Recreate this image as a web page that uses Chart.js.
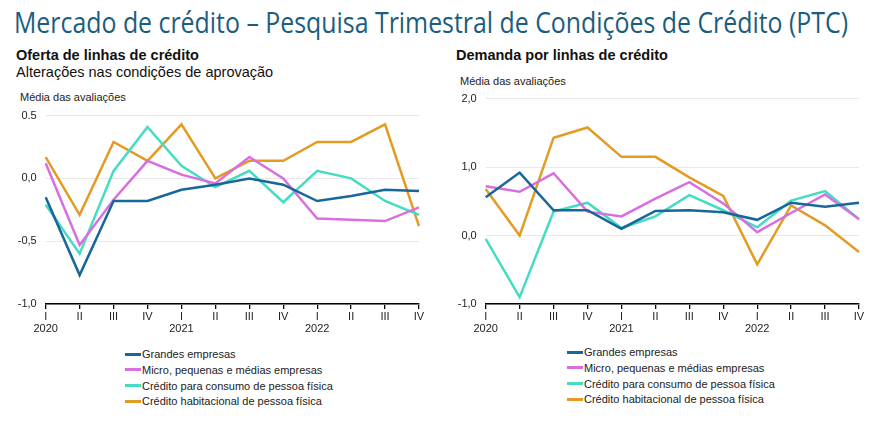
<!DOCTYPE html>
<html>
<head>
<meta charset="utf-8">
<script src="https://cdn.jsdelivr.net/npm/chart.js@4.4.1/dist/chart.umd.min.js"></script>
<style>
  html, body { margin: 0; padding: 0; background: #ffffff; }
  body { width: 886px; height: 435px; position: relative; overflow: hidden; font-family: "Liberation Sans", Arial, sans-serif; color: #1a1a1a; }
  #title { position: absolute; left: 14px; top: 1px; font-family: "Open Sans", sans-serif; font-size: 30px; color: #1b5d7e; white-space: nowrap; transform-origin: 0 0; }
  .h { position: absolute; font-size: 14.5px; font-weight: bold; white-space: nowrap; color: #111; }
  .sub { position: absolute; font-size: 14.5px; white-space: nowrap; color: #111; }
  .unit { position: absolute; font-size: 11px; white-space: nowrap; color: #222; }
  .wrap { position: absolute; }
  .legend { position: absolute; font-size: 11px; color: #222; }
  .legend div { height: 15.8px; line-height: 15.8px; white-space: nowrap; }
  .legend span.sw { display: inline-block; width: 16px; height: 3px; vertical-align: middle; margin-right: 1px; position: relative; top: -1px; }
</style>
</head>
<body>
<div id="title">Mercado de crédito – Pesquisa Trimestral de Condições de Crédito (PTC)</div>
<div class="h" style="left:16px; top:47px;">Oferta de linhas de crédito</div>
<div class="sub" style="left:16px; top:64px;">Alterações nas condições de aprovação</div>
<div class="unit" style="left:20px; top:91px;">Média das avaliações</div>
<div class="h" style="left:456px; top:47px;">Demanda por linhas de crédito</div>
<div class="unit" style="left:460px; top:75px;">Média das avaliações</div>
<div class="wrap" style="left:0px; top:100px; width:440px; height:240px;"><canvas id="c1"></canvas></div>
<div class="wrap" style="left:440px; top:80px; width:446px; height:260px;"><canvas id="c2"></canvas></div>
<div class="legend" id="leg1" style="left:125px; top:347px;"></div>
<div class="legend" id="leg2" style="left:567px; top:345px;"></div>
<script>
// ---- data ----
const quarters = ['I','II','III','IV','I','II','III','IV','I','II','III','IV'];
const years = ['2020','','','','2021','','','','2022','','',''];
const seriesNames = ['Grandes empresas','Micro, pequenas e médias empresas','Crédito para consumo de pessoa física','Crédito habitacional de pessoa física'];

const ofertaGrandes = [-0.15, -0.77, -0.18, -0.18, -0.09, -0.05, 0.00, -0.05, -0.18, -0.14, -0.09, -0.10];
const ofertaMicro   = [0.12, -0.53, -0.17, 0.14, 0.03, -0.04, 0.17, 0.00, -0.32, -0.33, -0.34, -0.23];
const ofertaConsumo = [-0.21, -0.60, 0.06, 0.41, 0.10, -0.07, 0.06, -0.19, 0.06, 0.00, -0.18, -0.29];
const ofertaHabit   = [0.17, -0.29, 0.29, 0.14, 0.43, 0.00, 0.14, 0.14, 0.29, 0.29, 0.43, -0.38];

const demandaGrandes = [0.56, 0.92, 0.37, 0.37, 0.10, 0.36, 0.37, 0.34, 0.23, 0.48, 0.42, 0.48];
const demandaMicro   = [0.72, 0.64, 0.91, 0.35, 0.28, 0.54, 0.78, 0.47, 0.05, 0.33, 0.60, 0.24];
const demandaConsumo = [-0.05, -0.90, 0.35, 0.48, 0.11, 0.28, 0.59, 0.37, 0.12, 0.51, 0.65, 0.24];
const demandaHabit   = [0.68, 0.00, 1.43, 1.58, 1.15, 1.15, 0.85, 0.58, -0.42, 0.44, 0.15, -0.24];

const ofertaTicks = [-1, -0.5, 0, 0.5];
const ofertaTickLabels = ['-1,0', '-0,5', '0,0', '0.5'];
const demandaTicks = [-1, 0, 1, 2];
const demandaTickLabels = ['-1,0', '0,0', '1,0', '2,0'];

// ---- styles ----
const colors = ['#17679b', '#d86fe0', '#45dcc3', '#e39b24'];

// fit title width
(function(){
  const t = document.getElementById('title');
  const w = t.getBoundingClientRect().width;
  t.style.transform = 'scaleX(' + (834 / w) + ')';
})();

function buildLegend(id) {
  const el = document.getElementById(id);
  seriesNames.forEach((n, i) => {
    const d = document.createElement('div');
    d.innerHTML = '<span class="sw" style="background:' + colors[i] + '"></span>' + n;
    el.appendChild(d);
  });
}
buildLegend('leg1');
buildLegend('leg2');

const xLabels = quarters.map((q, i) => [q, years[i]]);

function makeChart(canvasId, seriesList, ticks, tickLabels, pad) {
  const datasets = seriesList.map((data, i) => ({
    label: seriesNames[i],
    data: data,
    borderColor: colors[i],
    backgroundColor: colors[i],
    borderWidth: 2.5,
    pointRadius: 0,
    tension: 0,
    fill: false
  }));
  return new Chart(document.getElementById(canvasId), {
    type: 'line',
    data: { labels: xLabels, datasets: datasets },
    options: {
      responsive: true,
      maintainAspectRatio: false,
      animation: false,
      layout: { padding: pad },
      plugins: { legend: { display: false }, tooltip: { enabled: false } },
      scales: {
        x: {
          offset: false,
          grid: { display: true, drawOnChartArea: false, drawTicks: true, tickLength: 5, color: '#000', lineWidth: 1.3 },
          border: { display: true, color: '#000', width: 1.5 },
          ticks: { color: '#222', font: { family: 'Liberation Sans', size: 11, lineHeight: 1.1 }, padding: 2, maxRotation: 0, autoSkip: false },
          afterFit: (s) => { s.height = 36; }
        },
        y: {
          min: ticks[0],
          max: ticks[ticks.length - 1],
          afterBuildTicks: (s) => { s.ticks = ticks.map(v => ({ value: v })); },
          grid: { color: '#e9e9e9', lineWidth: 1, drawTicks: false },
          border: { display: false },
          ticks: {
            color: '#222',
            font: { family: 'Liberation Sans', size: 11 },
            padding: 9,
            callback: (v) => { const k = ticks.indexOf(v); return k >= 0 ? tickLabels[k] : ''; }
          },
          afterFit: (s) => { s.width = 45.7; }
        }
      }
    }
  });
}

makeChart('c1', [ofertaGrandes, ofertaMicro, ofertaConsumo, ofertaHabit], ofertaTicks, ofertaTickLabels, { top: 14, right: 21, left: 0, bottom: 0 });
makeChart('c2', [demandaGrandes, demandaMicro, demandaConsumo, demandaHabit], demandaTicks, demandaTickLabels, { top: 18.7, right: 27, left: 0, bottom: 0 });
</script>
</body>
</html>
